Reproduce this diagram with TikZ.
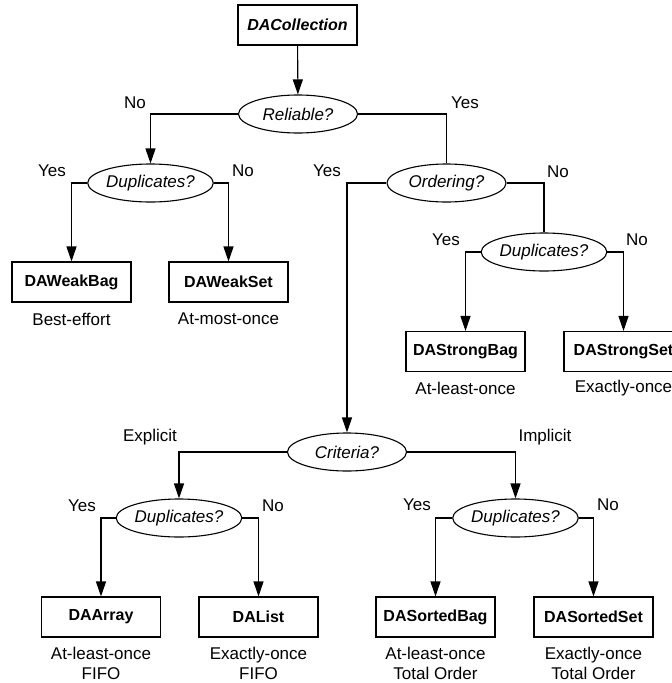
\documentclass[tikz,border=0pt]{standalone}
\usepackage{fontspec}
\setmainfont{Liberation Sans}
\usetikzlibrary{arrows.meta,shapes.geometric}
\begin{document}
\begin{tikzpicture}[x=1pt,y=-1pt,
  box/.style={draw,line width=1.1pt,minimum width=119pt,minimum height=40pt,inner sep=0pt,font=\fontsize{16}{18}\selectfont\bfseries},
  dec/.style={draw,ellipse,line width=1.1pt,minimum width=119pt,minimum height=38pt,inner sep=0pt,font=\fontsize{17}{20}\selectfont\itshape},
  lab/.style={inner sep=0pt,font=\fontsize{17}{20}\selectfont},
  conn/.style={line width=1.1pt},
  arw/.style={conn,-{Triangle[width=10pt,length=15pt]}}]
\useasboundingbox (0,0) rectangle (672,683);
% nodes
\node[box,font=\fontsize{16}{18}\selectfont\bfseries\itshape] (root) at (297.5,25) {DACollection};
\node[dec] (rel) at (298,114) {Reliable?};
\node[dec] (dupw) at (150.5,183) {Duplicates?};
\node[dec] (ord) at (446.5,183) {Ordering?};
\node[box] (wbag) at (71.5,282) {DAWeakBag};
\node[box] (wset) at (228.5,282) {DAWeakSet};
\node[dec] (dups) at (544,252) {Duplicates?};
\node[box] (sbag) at (465.5,351.5) {DAStrongBag};
\node[box] (sset) at (623.5,351.5) {DAStrongSet};
\node[dec] (crit) at (347,452) {Criteria?};
\node[dec] (dupe) at (179,518) {Duplicates?};
\node[dec] (dupi) at (515.5,518) {Duplicates?};
\node[box] (array) at (101,617) {DAArray};
\node[box] (list) at (258.5,617) {DAList};
\node[box] (sobag) at (435.5,617) {DASortedBag};
\node[box] (soset) at (593.5,617) {DASortedSet};
% connectors
\draw[arw] (root) -- (rel);
\draw[arw] (rel.west) -| (dupw.north);
\draw[conn] (rel.east) -| (ord.north);
\draw[arw] (dupw.west) -| (wbag.north);
\draw[arw] (dupw.east) -| (wset.north);
\draw[arw] (ord.west) -| (crit.north);
\draw[conn] (ord.east) -| (dups.north);
\draw[arw] (dups.west) -| (sbag.north);
\draw[arw] (dups.east) -| (sset.north);
\draw[arw] (crit.west) -| (dupe.north);
\draw[arw] (crit.east) -| (dupi.north);
\draw[arw] (dupe.west) -| (array.north);
\draw[arw] (dupe.east) -| (list.north);
\draw[arw] (dupi.west) -| (sobag.north);
\draw[arw] (dupi.east) -| (soset.north);
% branch labels
\node[lab] (l1) at (135,103) {No};
\node[lab] (l2) at (465,103) {Yes};
\node[lab] (l3) at (52,171) {Yes};
\node[lab] (l4) at (243,171) {No};
\node[lab] (l5) at (327,171) {Yes};
\node[lab] (l6) at (558,172) {No};
\node[lab] (l7) at (446,240) {Yes};
\node[lab] (l8) at (637,240) {No};
\node[lab] (l9) at (150,437) {Explicit};
\node[lab] (l10) at (545,437) {Implicit};
\node[lab] (l11) at (82,506) {Yes};
\node[lab] (l12) at (273,506) {No};
\node[lab] (l13) at (417,505) {Yes};
\node[lab] (l14) at (608,505) {No};
% semantics labels
\node[lab] (s1) at (71.5,319) {Best-effort};
\node[lab] (s2) at (228.5,319) {At-most-once};
\node[lab] (s3) at (465.5,388) {At-least-once};
\node[lab] (s4) at (623.5,388) {Exactly-once};
\node[lab,align=center] (s5) at (101,663) {At-least-once\\FIFO};
\node[lab,align=center] (s6) at (258.5,663) {Exactly-once\\FIFO};
\node[lab,align=center] (s7) at (435.5,663) {At-least-once\\Total Order};
\node[lab,align=center] (s8) at (593.5,663) {Exactly-once\\Total Order};
\end{tikzpicture}
\end{document}
